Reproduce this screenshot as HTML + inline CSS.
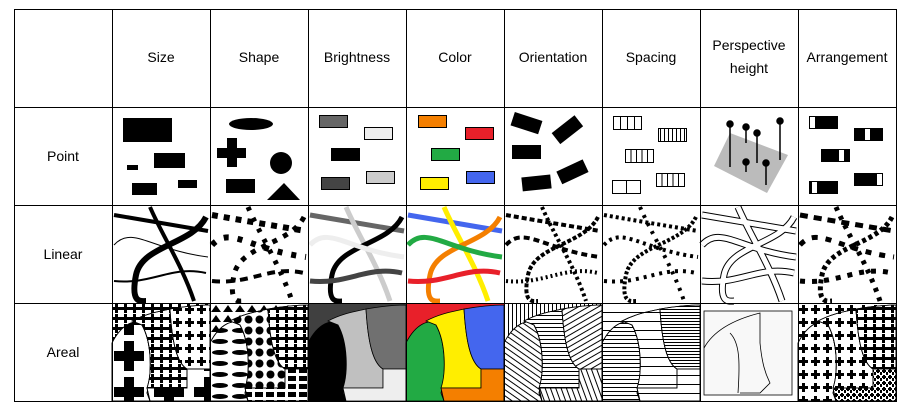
<!DOCTYPE html>
<html><head><meta charset="utf-8"><style>
html,body{margin:0;padding:0;background:#fff;}
svg{display:block;}
text{font-family:"Liberation Sans",Arial,sans-serif;font-size:14px;fill:#000;}
</style></head><body>
<svg width="910" height="410" viewBox="0 0 910 410" xmlns="http://www.w3.org/2000/svg">
<defs>
<pattern id="pSmallCross" width="9" height="10" patternUnits="userSpaceOnUse"><path d="M3 1h3v3h3v3h-3v3h-3v-3h-3v-3h3z" fill="#000"/></pattern>
<pattern id="pCross2" width="12" height="13" patternUnits="userSpaceOnUse"><path d="M4 2h3v3h3v3h-3v3h-3v-3h-3v-3h3z" fill="#000"/></pattern>
<pattern id="pBigCross" width="40" height="36" patternUnits="userSpaceOnUse"><path d="M12 2h10v10h10v10h-10v10h-10v-10h-10v-10h10z" fill="#000"/></pattern>
<pattern id="pCircle" width="11" height="11" patternUnits="userSpaceOnUse"><circle cx="5.5" cy="5.5" r="4" fill="#000"/></pattern>
<pattern id="pEllipse" width="20" height="11" patternUnits="userSpaceOnUse"><ellipse cx="10" cy="5.5" rx="8" ry="2.5" fill="#000"/></pattern>
<pattern id="pTri" width="12" height="10" patternUnits="userSpaceOnUse"><path d="M1 9L6 2L11 9Z" fill="#000"/></pattern>
<pattern id="pRect" width="11" height="8" patternUnits="userSpaceOnUse"><rect x="1" y="1" width="8" height="5" fill="#000"/></pattern>
<pattern id="pH4" width="6" height="4" patternUnits="userSpaceOnUse"><rect width="6" height="1" fill="#000"/></pattern>
<pattern id="pH9" width="6" height="9" patternUnits="userSpaceOnUse"><rect width="6" height="1" fill="#000"/></pattern>
<pattern id="pH3" width="6" height="3" patternUnits="userSpaceOnUse"><rect width="6" height="1" fill="#000"/></pattern>
<pattern id="pV" width="4" height="6" patternUnits="userSpaceOnUse"><rect width="1" height="6" fill="#000"/></pattern>
<pattern id="pD1" width="5" height="5" patternUnits="userSpaceOnUse" patternTransform="rotate(35)"><rect width="5" height="1" fill="#000"/></pattern>
<pattern id="pD2" width="5" height="5" patternUnits="userSpaceOnUse" patternTransform="rotate(-30)"><rect width="5" height="1" fill="#000"/></pattern>
<pattern id="pD3" width="5" height="5" patternUnits="userSpaceOnUse" patternTransform="rotate(70)"><rect width="5" height="1" fill="#000"/></pattern>
<pattern id="pCheck" width="6" height="6" patternUnits="userSpaceOnUse"><path d="M1 0h2v1h1v2h-1v1h-2v-1h-1v-2h1z M4 3h2v3h-2z" fill="#000"/></pattern>
<!-- areal regions relative -->
<path id="rL" d="M0,40 C10,20 25,15 30,22 C40,40 40,70 35,90 L38,98 L0,98 Z"/>
<path id="rM" d="M20,18 C35,10 50,8 58,6 C60,40 65,60 75,66 L75,85 C60,85 45,85 35,85 C40,70 40,40 30,22 Z"/>
<path id="rR" d="M58,6 C75,3 90,2 98,2 L98,66 L75,66 C65,60 60,40 58,6 Z"/>
<path id="rB" d="M35,85 C45,85 60,85 75,85 L75,66 L98,66 L98,98 L38,98 Z"/>
<!-- linear curves relative -->
<path id="cA" d="M2,10 C30,15 60,20 96,26"/>
<path id="cB" d="M38,2 C50,30 70,60 82,96"/>
<path id="cC" d="M94,12 C80,40 30,40 24,70 S30,96 34,96"/>
<path id="cD" d="M2,40 C20,20 40,45 96,52"/>
<path id="cE" d="M2,76 C40,80 60,60 94,68"/>
</defs>

<!-- Headers -->
<text x="161" y="62" text-anchor="middle">Size</text>
<text x="259" y="62" text-anchor="middle">Shape</text>
<text x="357" y="62" text-anchor="middle">Brightness</text>
<text x="455" y="62" text-anchor="middle">Color</text>
<text x="553" y="62" text-anchor="middle">Orientation</text>
<text x="651" y="62" text-anchor="middle">Spacing</text>
<text x="749" y="50" text-anchor="middle">Perspective</text>
<text x="749" y="73" text-anchor="middle">height</text>
<text x="847" y="62" text-anchor="middle">Arrangement</text>
<text x="63" y="161" text-anchor="middle">Point</text>
<text x="63" y="259" text-anchor="middle">Linear</text>
<text x="63" y="357" text-anchor="middle">Areal</text>

<!-- Point row -->
<g fill="#000">
<rect x="123" y="118" width="49" height="24"/><rect x="154" y="153" width="31" height="15"/>
<rect x="127" y="165" width="11" height="5"/><rect x="132" y="183" width="25" height="12"/><rect x="178" y="180" width="19" height="8"/>
<ellipse cx="251" cy="124" rx="22" ry="6"/>
<path d="M227 138h10v10h9v10h-9v9h-10v-9h-10v-10h10z"/>
<circle cx="281" cy="163" r="11"/><rect x="226" y="179" width="29" height="14"/>
<path d="M267 200L300 200L284 183Z"/>
</g>
<g stroke="#000" stroke-width="1">
<rect x="319.5" y="115.5" width="28" height="12" fill="#666"/><rect x="364.5" y="127.5" width="28" height="12" fill="#eee"/>
<rect x="331.5" y="148.5" width="28" height="12" fill="#000"/><rect x="321.5" y="177.5" width="28" height="12" fill="#444"/>
<rect x="366.5" y="171.5" width="28" height="12" fill="#ccc"/>
<rect x="418.5" y="115.5" width="28" height="12" fill="#f47f00"/><rect x="465.5" y="127.5" width="28" height="12" fill="#e8202a"/>
<rect x="431.5" y="148.5" width="28" height="12" fill="#22aa44"/><rect x="420.5" y="177.5" width="28" height="12" fill="#ffee00"/>
<rect x="466.5" y="171.5" width="28" height="12" fill="#4466ee"/>
</g>
<g fill="#000">
<rect x="512" y="116" width="29" height="14" transform="rotate(18 526 123)"/>
<rect x="553" y="123" width="29" height="14" transform="rotate(-38 567 130)"/>
<rect x="512" y="145" width="29" height="14"/>
<rect x="522" y="176" width="29" height="14" transform="rotate(-6 536 183)"/>
<rect x="558" y="165" width="29" height="14" transform="rotate(-25 572 172)"/>
</g>
<g stroke="#000" fill="#fff">
<rect x="613.5" y="116.5" width="28" height="13"/><path d="M620.5 116.5v13M627.5 116.5v13M634.5 116.5v13"/>
<rect x="658.5" y="128.5" width="28" height="13" fill="url(#pV)"/>
<rect x="625.5" y="149.5" width="28" height="13"/><path d="M631 149.5v13M636.5 149.5v13M642 149.5v13M647.5 149.5v13"/>
<rect x="612.5" y="180.5" width="28" height="13"/><path d="M626.5 180.5v13"/>
<rect x="656.5" y="173.5" width="28" height="13"/><path d="M662 173.5v13M667.5 173.5v13M673 173.5v13M678.5 173.5v13"/>
</g>
<path d="M714 166L730 133L788 155L767 193Z" fill="#bbb"/>
<g stroke="#000" stroke-width="1.5" fill="#000">
<path d="M730 124V167M746 127V143M757 133V163M780 121V160M746 162V172M766 163V185"/>
<circle cx="730" cy="124" r="3"/><circle cx="746" cy="127" r="3"/><circle cx="757" cy="133" r="3"/><circle cx="780" cy="121" r="3"/><circle cx="746" cy="162" r="3"/><circle cx="766" cy="163" r="3"/>
</g>
<g>
<rect x="809" y="116" width="29" height="13" fill="#000"/><rect x="810" y="117" width="5" height="11" fill="#fff"/>
<rect x="854" y="128" width="29" height="13" fill="#000"/><rect x="865" y="129" width="5" height="11" fill="#fff"/>
<rect x="821" y="149" width="29" height="13" fill="#000"/><rect x="839" y="150" width="5" height="11" fill="#fff"/>
<rect x="809" y="181" width="29" height="13" fill="#000"/><rect x="812" y="182" width="5" height="11" fill="#fff"/>
<rect x="854" y="173" width="29" height="13" fill="#000"/><rect x="877" y="174" width="5" height="11" fill="#fff"/>
</g>

<!-- Linear row -->
<g transform="translate(112,205)" fill="none" stroke="#000">
<use href="#cA" stroke-width="4"/><use href="#cB" stroke-width="4"/><use href="#cC" stroke-width="6"/><use href="#cD" stroke-width="1"/><use href="#cE" stroke-width="2"/>
</g>
<g transform="translate(210,205)" fill="none" stroke="#000">
<use href="#cA" stroke-width="6" stroke-dasharray="6 6"/><use href="#cB" stroke-width="5" stroke-dasharray="4 8"/><use href="#cC" stroke-width="5" stroke-dasharray="5 7"/><use href="#cD" stroke-width="6" stroke-dasharray="5 9"/><use href="#cE" stroke-width="4" stroke-dasharray="8 6"/>
</g>
<g transform="translate(308,205)" fill="none" stroke-width="5">
<use href="#cA" stroke="#666"/><use href="#cB" stroke="#ccc"/><use href="#cC" stroke="#000"/><use href="#cD" stroke="#eee"/><use href="#cE" stroke="#444"/>
</g>
<g transform="translate(406,205)" fill="none" stroke-width="5">
<use href="#cA" stroke="#4466ee"/><use href="#cB" stroke="#ffee00"/><use href="#cC" stroke="#f47f00"/><use href="#cD" stroke="#22aa44"/><use href="#cE" stroke="#e8202a"/>
</g>
<g transform="translate(504,205)" fill="none" stroke="#000" stroke-width="4">
<use href="#cA" stroke-dasharray="5 3"/><use href="#cB" stroke-dasharray="3 3"/><use href="#cC" stroke-dasharray="4 2"/><use href="#cD" stroke-dasharray="6 4"/><use href="#cE" stroke-dasharray="2 3"/>
</g>
<g transform="translate(602,205)" fill="none" stroke="#000" stroke-width="4">
<use href="#cA" stroke-dasharray="3 3"/><use href="#cB" stroke-dasharray="3 6"/><use href="#cC" stroke-dasharray="3 2"/><use href="#cD" stroke-dasharray="3 4"/><use href="#cE" stroke-dasharray="3 5"/>
</g>
<g transform="translate(700,205)" fill="none">
<g stroke="#000" stroke-width="7"><use href="#cA"/><use href="#cB"/><use href="#cC"/><use href="#cD"/><use href="#cE"/></g>
<g stroke="#fff" stroke-width="5"><use href="#cA"/><use href="#cB"/><use href="#cC"/><use href="#cD"/><use href="#cE"/></g>
</g>
<g transform="translate(798,205)" fill="none" stroke="#000" stroke-width="5">
<use href="#cA" stroke-dasharray="8 6"/><use href="#cB" stroke-dasharray="4 6"/><use href="#cC" stroke-dasharray="4 3"/><use href="#cD" stroke-dasharray="6 8"/><use href="#cE" stroke-dasharray="5 7"/>
</g>

<!-- Areal row -->
<g transform="translate(112,303)" stroke="#000" stroke-width="0.8">
<rect width="98" height="98" fill="url(#pSmallCross)" stroke="none"/>
<use href="#rL" fill="#fff"/><use href="#rL" fill="url(#pBigCross)"/>
<use href="#rM" fill="#fff"/><use href="#rM" fill="url(#pSmallCross)"/>
<use href="#rR" fill="#fff"/><use href="#rR" fill="url(#pCross2)"/>
<use href="#rB" fill="#fff"/><use href="#rB" fill="url(#pBigCross)"/>
</g>
<g transform="translate(210,303)" stroke="#000" stroke-width="0.8">
<rect width="98" height="98" fill="url(#pTri)" stroke="none"/>
<use href="#rL" fill="#fff"/><use href="#rL" fill="url(#pEllipse)"/>
<use href="#rM" fill="#fff"/><use href="#rM" fill="url(#pCircle)"/>
<use href="#rR" fill="#fff"/><use href="#rR" fill="url(#pSmallCross)"/>
<use href="#rB" fill="#fff"/><use href="#rB" fill="url(#pRect)"/>
</g>
<g transform="translate(308,303)" stroke="#000" stroke-width="0.8">
<rect width="98" height="98" fill="#404040" stroke="none"/>
<use href="#rL" fill="#000"/><use href="#rM" fill="#c0c0c0"/><use href="#rR" fill="#707070"/><use href="#rB" fill="#eeeeee"/>
</g>
<g transform="translate(406,303)" stroke="#000" stroke-width="0.8">
<rect width="98" height="98" fill="#e8202a" stroke="none"/>
<use href="#rL" fill="#22aa44"/><use href="#rM" fill="#ffee00"/><use href="#rR" fill="#4466ee"/><use href="#rB" fill="#f47f00"/>
</g>
<g transform="translate(504,303)" stroke="#000" stroke-width="0.8">
<rect width="98" height="98" fill="url(#pV)" stroke="none"/>
<use href="#rL" fill="#fff"/><use href="#rL" fill="url(#pD1)"/>
<use href="#rM" fill="#fff"/><use href="#rM" fill="url(#pH4)"/>
<use href="#rR" fill="#fff"/><use href="#rR" fill="url(#pD2)"/>
<use href="#rB" fill="#fff"/><use href="#rB" fill="url(#pD3)"/>
</g>
<g transform="translate(602,303)" stroke="#000" stroke-width="0.8">
<rect width="98" height="98" fill="url(#pH9)" stroke="none"/>
<use href="#rL" fill="#fff"/><use href="#rL" fill="url(#pH4)"/>
<use href="#rM" fill="#fff"/><use href="#rM" fill="url(#pH9)"/>
<use href="#rR" fill="#fff"/><use href="#rR" fill="url(#pH3)"/>
<use href="#rB" fill="#fff"/><use href="#rB" fill="url(#pH9)"/>
</g>
<g transform="translate(700,303)" fill="#f8f8f8" stroke="#000" stroke-width="0.8">
<rect x="4" y="8" width="88" height="84"/>
<path d="M4,45 C15,25 40,15 60,10 L60,40 C62,60 65,70 70,80 L60,90 L40,90" fill="none"/>
<path d="M30,30 C40,40 40,60 38,90" fill="none"/>
</g>
<g transform="translate(798,303)" stroke="#000" stroke-width="0.8">
<rect width="98" height="98" fill="url(#pCross2)" stroke="none"/>
<use href="#rL" fill="#fff"/><use href="#rL" fill="url(#pCross2)"/>
<use href="#rM" fill="#fff"/><use href="#rM" fill="url(#pCross2)"/>
<use href="#rR" fill="#fff"/><use href="#rR" fill="url(#pSmallCross)"/>
<use href="#rB" fill="#fff"/><use href="#rB" fill="url(#pCheck)"/>
</g>

<!-- Grid -->
<g stroke="#000" stroke-width="1" fill="none">
<rect x="14.5" y="9.5" width="882" height="392"/>
<path d="M112.5 9.5V401.5M210.5 9.5V401.5M308.5 9.5V401.5M406.5 9.5V401.5M504.5 9.5V401.5M602.5 9.5V401.5M700.5 9.5V401.5M798.5 9.5V401.5"/>
<path d="M14.5 107.5H896.5M14.5 205.5H896.5M14.5 303.5H896.5"/>
</g>
</svg>
</body></html>
